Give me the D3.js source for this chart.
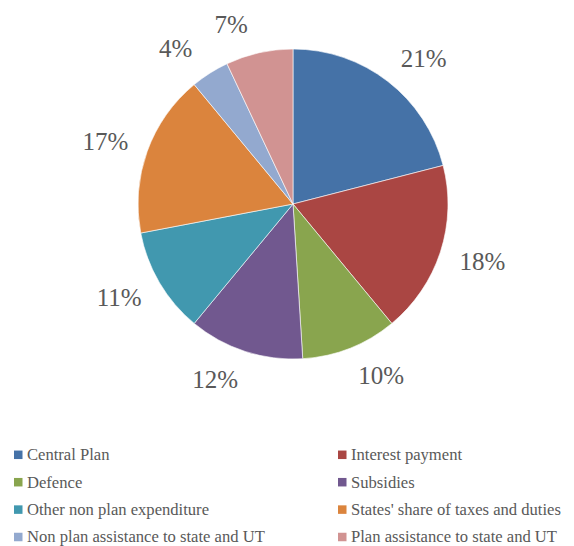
<!DOCTYPE html>
<html>
<head>
<meta charset="utf-8">
<script src="https://cdn.jsdelivr.net/npm/d3@7"></script>
<style>
  html, body { margin: 0; padding: 0; background: #fff; }
  svg { display: block; }
</style>
</head>
<body>
<svg id="chart" width="574" height="546"></svg>
<script>
const categories = [
  "Central Plan",
  "Interest payment",
  "Defence",
  "Subsidies",
  "Other non plan expenditure",
  "States' share of taxes and duties",
  "Non plan assistance to state and UT",
  "Plan assistance to state and UT"
];
const values = [21, 18, 10, 12, 11, 17, 4, 7];
const colors = ["#4572A7", "#AA4643", "#89A54E", "#71588F", "#4198AF", "#DB843D", "#93A9CF", "#D19392"];

const W = 574, H = 546;
const cx = 293, cy = 204, R = 155;
const font = "'Liberation Serif', 'Times New Roman', serif";
const textColor = "#595959";

const svg = d3.select("#chart");
const data = categories.map((c, i) => ({ name: c, value: values[i], color: colors[i] }));

const pie = d3.pie().value(d => d.value).sort(null).startAngle(0).endAngle(2 * Math.PI);
const arcs = pie(data);
const arc = d3.arc().innerRadius(0).outerRadius(R);

const g = svg.append("g").attr("transform", `translate(${cx},${cy})`);
g.selectAll("path.slice")
  .data(arcs)
  .enter().append("path")
  .attr("class", "slice")
  .attr("d", arc)
  .attr("fill", d => d.data.color)
  .attr("stroke", "#ffffff")
  .attr("stroke-width", 0.6)
  .attr("stroke-linejoin", "round");

// Outside-end labels
const total = d3.sum(values);
const labelR = 184;
g.selectAll("text.lbl")
  .data(arcs)
  .enter().append("text")
  .attr("class", "lbl")
  .attr("x", d => {
    const t = (d.startAngle + d.endAngle) / 2;
    const s = Math.sin(t);
    return labelR * s + Math.sign(s) * (24 - 10 * Math.abs(s));
  })
  .attr("y", d => {
    const t = (d.startAngle + d.endAngle) / 2;
    return -labelR * Math.cos(t);
  })
  .attr("dy", "0.35em")
  .attr("text-anchor", "middle")
  .attr("font-family", font)
  .attr("font-size", 25)
  .attr("fill", textColor)
  .text(d => Math.round(d.data.value / total * 100) + "%");

// Legend
const colX = [14, 338];
const rowY = [454.8, 482.2, 509.6, 537];
const sq = 8.5;
const legend = svg.append("g");
const items = legend.selectAll("g.item")
  .data(data)
  .enter().append("g")
  .attr("class", "item")
  .attr("transform", (d, i) => `translate(${colX[i % 2]},${rowY[Math.floor(i / 2)]})`);
items.append("rect")
  .attr("x", 0).attr("y", -sq / 2)
  .attr("width", sq).attr("height", sq)
  .attr("fill", d => d.color);
items.append("text")
  .attr("x", 13)
  .attr("y", 0)
  .attr("dy", "0.32em")
  .attr("font-family", font)
  .attr("font-size", 16.6)
  .attr("fill", textColor)
  .text(d => d.name);
</script>
</body>
</html>
